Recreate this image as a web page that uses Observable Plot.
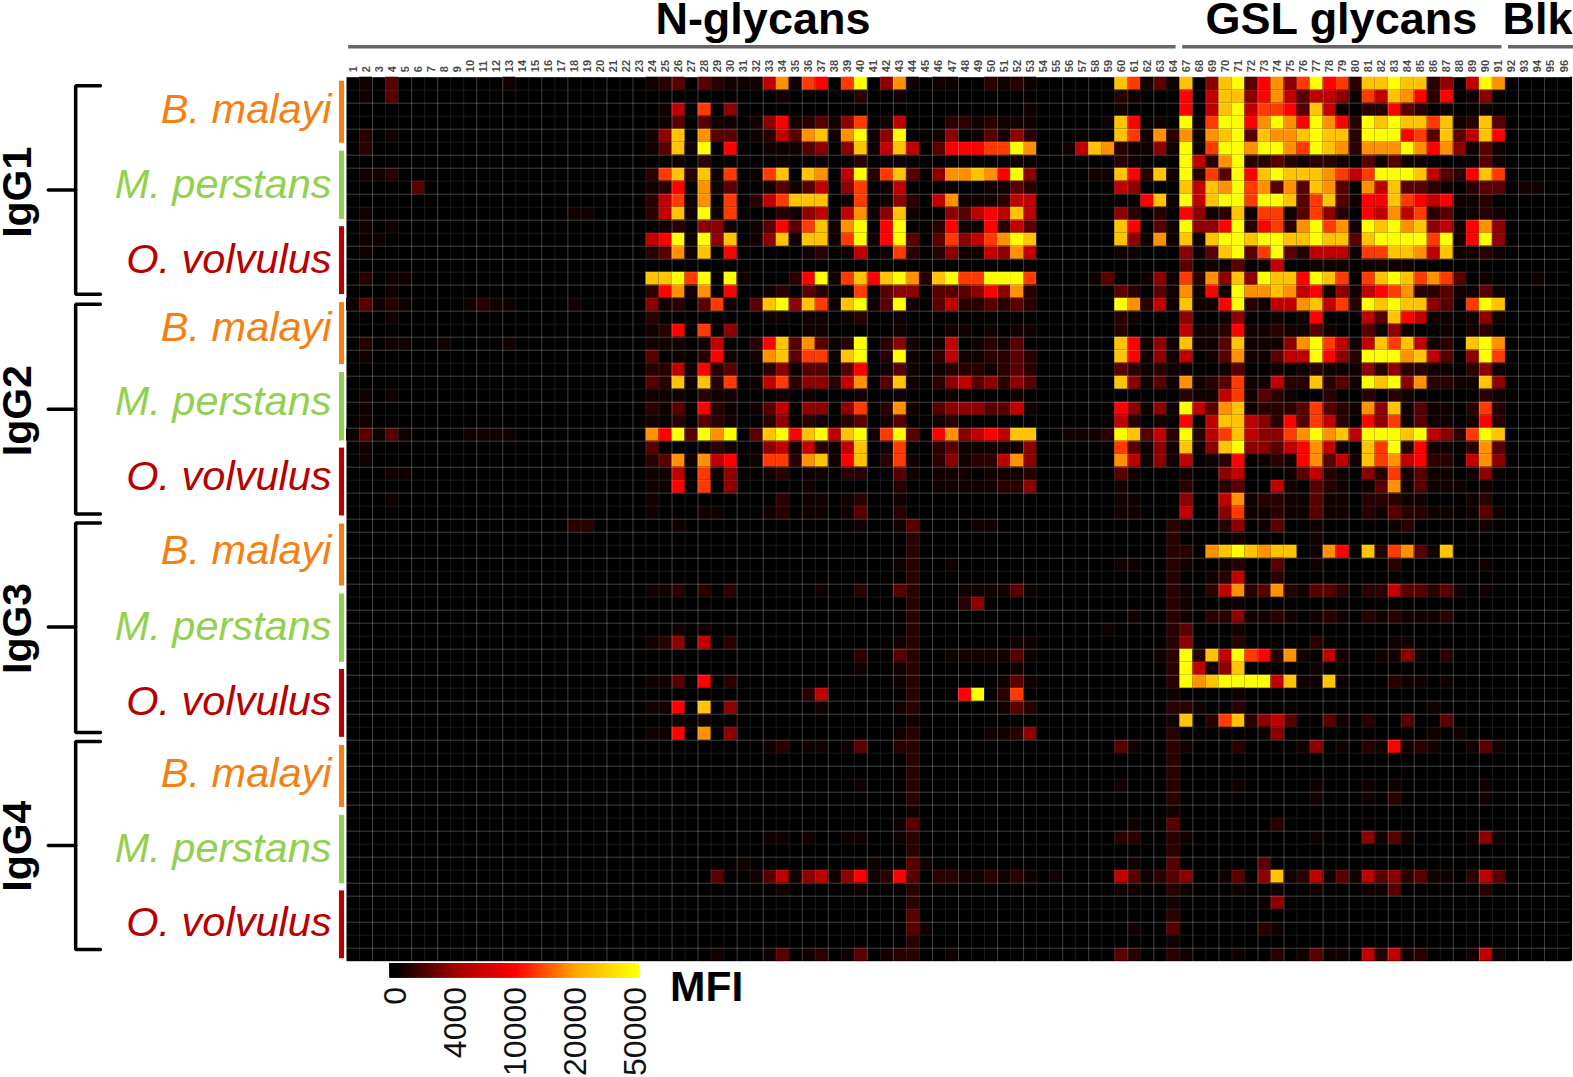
<!DOCTYPE html>
<html>
<head>
<meta charset="utf-8">
<style>html,body{margin:0;padding:0;background:#fff}svg{display:block}</style>
<script src="https://cdn.jsdelivr.net/npm/d3@7"></script>
<script src="https://cdn.jsdelivr.net/npm/@observablehq/plot@0.6"></script>
</head>
<body>
<div id="chart"></div>
<script>
// Glycan numbers along the top (65 and 66 are not on the array)
const glycanLabels = [...Array(64).keys()].map(i => i + 1).concat([...Array(30).keys()].map(i => i + 67));
// Colour legend
const legendTicks = [0, 4000, 10000, 20000, 50000];
const legendColors = ["#000000", "#a00000", "#ff0000", "#ffa500", "#ffff00"];
// MFI read for each colour level in the grids below (0-9, a)
const levelMfi = {0:0, 1:400, 2:1000, 3:2200, 4:3500, 5:6000, 6:10000, 7:13500, 8:18700, 9:30000, a:50000};

// Faint cells in glycans 1-23: [row, glycan, level]
const faintCells = [[0,2,1],[0,4,3],[0,13,1],[1,2,1],[1,4,3],[4,2,2],[4,4,1],[5,2,2],[7,2,1],[7,3,1],[7,4,2],[8,6,3],[10,2,1],[10,18,1],[10,19,1],[11,2,1],[11,4,1],[12,2,1],[12,3,1],[13,2,1],[15,2,2],[15,4,1],[15,5,1],[16,4,1],[17,1,1],[17,2,3],[17,3,1],[17,4,2],[17,5,1],[17,10,1],[17,11,2],[17,12,1],[17,13,1],[17,18,1],[18,4,1],[20,2,2],[20,4,1],[20,5,1],[20,8,1],[20,13,1],[21,2,1],[24,2,1],[24,4,1],[25,2,1],[26,2,1],[27,1,1],[27,2,3],[27,3,1],[27,4,3],[27,5,1],[27,10,1],[27,11,1],[27,12,1],[27,13,1],[28,2,1],[29,2,1],[30,4,1],[30,5,1],[32,4,1],[34,18,2],[34,19,2]];

// Levels for glycans 24-53, one string per row
const midLevels = [
"1230321115 817607a048 1011002121",
"0000000000 1000002001 0000000000",
"0150704000 0000000000 0000000001",
"0130311014 6123147015 0002212111",
"1490833012 538918a14a 0014013142",
"1391a06001 1134049159 50366677a8",
"0010200000 1001002001 0000000010",
"2792917017 909805a279 30488986a4",
"1260813001 3135047015 0000001132",
"2571807025 7999017014 2058111255",
"2591a17000 2145058149 1004356595",
"0120441013 637918a06a 0026116253",
"56a1a49014 919917a16a 30374578a9",
"2381906000 0012015017 2024115485",
"0000000000 0000000000 0000000000",
"99a7a0a100 026a17969a 829a77aaa7",
"2681806001 2032007034 4033346482",
"4120371039 a49719a13a 1035223232",
"2000000001 1011012001 0000000000",
"1260704000 0011000001 0001101011",
"1110150026 938312a024 1015012130",
"3010261018 937719a02a 1025112232",
"2251623002 4133036013 1012221232",
"3291927015 7244258039 1024534243",
"1110211000 1010001001 0001000010",
"2130621013 5044047028 1034443351",
"1020321002 4021023013 0012000000",
"86a3a8a039 a69a59a17a 3068456599",
"3000121004 5152159017 0023111114",
"2381856017 7289169027 1024122584",
"1150714001 2011022003 1011101112",
"1160704000 0010000002 0011111224",
"1000000000 2011012001 0000000000",
"1000110001 2011013002 0000000000",
"0010000000 0000001001 3000011000",
"0000000000 0000000000 2000000000",
"0000000000 0000000000 2000000000",
"0000000000 0000000001 2001000000",
"0000000000 0000000000 2000000000",
"1120202000 0001002003 2000111131",
"0000000000 0000000000 2000240000",
"0000000000 0000000000 2000000000",
"0010100000 0000000000 2000000000",
"1240502000 0000000001 2000000011",
"0000000000 0000002003 2001111131",
"0000000000 0000001001 2000000010",
"1130602000 0000000001 2000000131",
"0000000000 0025000000 20006a0270",
"1160904000 0001000001 2000000132",
"0010100000 0000000000 1000000000",
"1160804000 0000000001 2000001124",
"0000000001 2011013002 2000000000",
"0000000000 0000000000 2000000000",
"0000000000 0000000000 2000000000",
"0000000000 0000001000 2000000000",
"0000000000 0000000000 2000000000",
"0000000000 0000000000 1000000000",
"0000000000 0000000001 3000000000",
"0000000001 1010011001 2000000000",
"0000000000 0000000000 2000000000",
"0000000100 0000000100 3100000000",
"0000030013 5145146126 3022112121",
"0000000000 1000001000 2000000000",
"0000000000 0000000000 2000000000",
"0000000000 0000000000 3000000000",
"0000000000 0000000000 3100000000",
"0000000000 0000000000 2000000000",
"0000010001 3012013012 2001000000"
];

// Levels for glycans 54-59 | 60-64 | 67-71 | 72-76 | 77-81 | 82-86 | 87-91 | 92-96
const rightLevels = [
"000000 97131 9049a 36847 a6729 9a992 405a8 00000",
"000000 21000 60599 46853 55417 59862 60140 00000",
"000000 10000 6059a 57763 95102 26320 10010 00000",
"000001 96010 a17aa 68a86 a862a 9a997 91293 00000",
"000000 97182 8189a 39889 a992a aa673 93596 00000",
"001598 21141 a17aa 8aa87 a9828 88a86 84131 00000",
"000000 21000 a528a 22321 22103 13110 00031 00000",
"000011 96291 a273a 69a99 98757 aaa95 32697 00000",
"000000 54000 9598a 78383 98308 59332 10233 01100",
"000000 00691 a59aa 7aa93 79316 69765 61120 00000",
"000000 42020 64129 17713 74206 58572 30121 00000",
"000000 96031 a446a 26728 a781a 9a894 51684 00000",
"000000 94181 919aa 9aa99 a9939 aaaa7 a16a4 00000",
"000000 11000 4139a 37a32 55517 79985 91121 00000",
"000000 00000 30113 01500 11101 11100 00000 00000",
"000013 00141 72849 4a996 a9707 9a978 73010 00100",
"000000 32031 8161a 88985 61415 67822 31131 00000",
"000000 a8251 9116a 21558 9572a 9a994 307a9 00000",
"000000 21000 40014 00101 60005 39651 10141 00000",
"000000 20000 51126 11211 31003 14100 10120 00000",
"000000 96141 91139 11148 a7515 97951 209a8 00000",
"000000 96141 50138 11355 a642a aa895 304a7 00000",
"000000 32121 10013 00101 21114 24221 10241 00000",
"000000 94131 81237 11522 9231a 9a482 21194 00000",
"000000 00000 21157 13210 02002 02100 00021 00000",
"000000 64141 a5389 12223 73218 49131 10272 00000",
"000000 52010 60599 54263 75206 47131 10162 00000",
"001112 a9352 a2579 54478 a895a aa9a5 427a9 00000",
"000000 73141 9149a 44356 85109 7a261 10283 00000",
"000000 85141 50126 01216 83519 78562 20584 00000",
"000000 31000 10045 00013 52104 27131 10141 00000",
"000000 10000 20023 00510 32101 38131 11010 00000",
"000000 11000 40058 12211 31102 22110 00120 00000",
"000000 11000 50047 11211 31102 13221 10131 00000",
"000000 00002 10024 01300 10000 01200 00010 00000",
"000000 00002 00001 00000 10000 00000 00000 00000",
"000000 00002 2089a 98990 18609 27831 90000 00000",
"000000 11002 10012 00300 10000 02000 00010 00000",
"000000 00002 00125 00200 00000 00000 00000 00000",
"000000 00002 10258 23821 33202 25332 31010 00000",
"000000 00002 10001 00000 00000 00000 00000 00000",
"000000 01002 10224 11210 12102 12111 20000 00000",
"000001 00002 30001 00000 00000 00000 00000 00000",
"000000 00002 40002 00000 20000 01100 00000 00000",
"000000 00012 a295a 76281 05100 11410 20000 00000",
"000000 00002 a5149 00000 10000 00000 00000 00000",
"000000 00002 a89aa aa591 19100 02110 10000 00000",
"000000 00001 00001 00000 00000 00000 00000 00000",
"000000 00002 21002 00000 00000 00001 00000 00000",
"000000 00001 90279 24530 03102 00300 30000 00000",
"000000 00002 00000 01400 00000 00001 01000 00000",
"000000 31002 10002 00001 40102 16121 00131 00000",
"000000 00002 00000 00000 00000 00000 00000 00000",
"000000 00002 00000 00000 00000 00000 00000 00000",
"000000 10002 00001 00000 10001 01000 00010 00000",
"000000 00002 00000 00000 10001 02000 00010 00000",
"000000 00001 00000 00000 00000 00000 00000 00000",
"000000 01003 00000 00200 00000 00000 00000 00000",
"000000 22002 10000 00000 10004 13100 00141 00000",
"000000 00002 00000 00000 00000 00000 00000 00000",
"000000 01003 00000 03000 00000 00000 00000 00000",
"010000 53123 40013 04912 51315 34231 10253 00000",
"000000 11002 10001 00100 10001 13000 00020 00000",
"000000 00001 00000 01400 00000 00000 00000 00000",
"000000 00002 00000 00000 00000 00000 00000 00000",
"000000 01003 00000 02100 00000 00000 00000 00000",
"000000 00001 00000 00000 00000 00000 00000 00000",
"000000 32002 10001 00201 31105 25120 00151 00000"
];

// Annotation text
const isotypes = ["IgG1", "IgG2", "IgG3", "IgG4"];
const species = ["B. malayi", "M. perstans", "O. volvulus"];
const speciesColors = ["#f57f11", "#92d050", "#b80000"];
const glycanGroups = ["N-glycans", "GSL glycans", "Blk"];

// Placement of the annotations in the chart's own column / row units
const isotypeMid = [8.67, 25.55, 42.3, 59.1];
const isotypeText = [8.85, 25.65, 42.4, 59.15];
const bracketTop = [0.66, 17.47, 34.3, 51.1];
const bracketBottom = [16.7, 33.6, 50.4, 67.1];
const bandStart = [0.31, 5.69, 11.5];
const bandEnd = [5.08, 10.95, 16.72];
const labelRows = [2.5, 8.25, 14.05, 19.25, 25, 30.75, 36.45, 42.25, 48.05, 53.55, 59.35, 65.05];
const groupStart = [0.13, 64.18, 89.2];
const groupEnd = [63.67, 88.7, 94.2];
const groupMid = [31.98, 76.4, 91.47];
const legendPos = [3.77, 8.39, 13.01, 17.63, 22.25];

// ---- assemble the table ----
const cells = [];
midLevels.forEach((s, r) => {
  const mid = s.replace(/ /g, ""), right = rightLevels[r].replace(/ /g, "");
  [...mid].forEach((c, i) => cells.push({row: r, col: 23 + i, mfi: levelMfi[c]}));
  [...right].forEach((c, i) => cells.push({row: r, col: 53 + i, mfi: levelMfi[c]}));
});
faintCells.forEach(([r, g, l]) => cells.push({row: r, col: g - 1, mfi: levelMfi[l]}));

const nCols = glycanLabels.length, nRows = midLevels.length;
const vLines = d3.range(1, nCols), hLines = d3.range(1, nRows);
const brightV = v => v % 5 === 0 || v % 5 === 2;
const brightH = h => [0, 2, 4, 6].includes(h % 7);

// legend strip
const posToMfi = d3.scaleLinear().domain(legendPos).range(legendTicks).clamp(true);
const legendX0 = 3.31, legendX1 = 22.48, legendN = 249;
const legendStrip = d3.range(legendN).map(i => ({
  x1: legendX0 + (legendX1 - legendX0) * i / legendN,
  x2: legendX0 + (legendX1 - legendX0) * Math.min(i + 2, legendN) / legendN,
  mfi: posToMfi(legendX0 + (legendX1 - legendX0) * (i + .5) / legendN)
}));

// brackets and species bands
const brackets = isotypes.flatMap((g, k) => [
  {k: k + "a", x: -18.9, y: bracketTop[k]},
  {k: k + "a", x: -20.8, y: bracketTop[k]},
  {k: k + "a", x: -20.8, y: bracketBottom[k]},
  {k: k + "a", x: -18.9, y: bracketBottom[k]},
  {k: k + "b", x: -22.9, y: isotypeMid[k]},
  {k: k + "b", x: -20.8, y: isotypeMid[k]}
]);
const bands = isotypes.flatMap((g, k) => species.map((s, j) => ({
  y1: 17.03 * k + bandStart[j], y2: 17.03 * k + bandEnd[j], fill: speciesColors[j]
})));
const labels = labelRows.map((y, i) => ({y, text: species[i % 3], fill: speciesColors[i % 3]}));

const chart = Plot.plot({
  width: 1573, height: 1077,
  marginLeft: 346, marginRight: 3, marginTop: 76.7, marginBottom: 116.3,
  style: {fontFamily: "'Liberation Sans', Arial, sans-serif", background: "#fff", overflow: "hidden"},
  x: {axis: null, domain: [0, nCols], range: [346, 1570]},
  y: {axis: null, domain: [0, nRows], range: [76.7, 960.7]},
  color: {type: "linear", domain: legendTicks, range: legendColors},
  marks: [
    Plot.frame({fill: "#000", stroke: null}),
    Plot.rect([0], {x1: () => nCols, x2: () => nCols + 0.16, y1: () => 0, y2: () => nRows, fill: () => 0}),
    Plot.rect(cells.filter(d => d.mfi > 0), {
      x1: "col", x2: d => d.col + 1, y1: "row", y2: d => d.row + 1, fill: "mfi"
    }),
    Plot.ruleX(vLines.filter(v => !brightV(v)), {stroke: "#fff", strokeOpacity: 0.1, strokeWidth: 1}),
    Plot.ruleX(vLines.filter(brightV), {stroke: "#fff", strokeOpacity: 0.25, strokeWidth: 1}),
    Plot.ruleY(hLines.filter(h => !brightH(h)), {stroke: "#fff", strokeOpacity: 0.1, strokeWidth: 1}),
    Plot.ruleY(hLines.filter(brightH), {stroke: "#fff", strokeOpacity: 0.25, strokeWidth: 1}),
    Plot.axisX(glycanLabels.map((d, i) => i + .5), {
      anchor: "top", tickSize: 0, tickPadding: 5, tickRotate: -90,
      tickFormat: p => glycanLabels[p - .5], label: null,
      fontSize: 11, fontWeight: "bold", fill: "#4a4a4a"
    }),
    // group bars above
    Plot.link(glycanGroups.map((g, i) => i), {
      x1: i => groupStart[i], x2: i => groupEnd[i], y1: () => -2.35, y2: () => -2.35,
      stroke: "#666", strokeWidth: 3.5
    }),
    Plot.text(glycanGroups, {
      x: (d, i) => groupMid[i], y: () => -4.43, text: d => d,
      fontSize: 45, fontWeight: "bold", fill: "#000"
    }),
    // brackets
    Plot.line(brackets, {x: "x", y: "y", z: "k", stroke: "#000", strokeWidth: 3.5, curve: "linear", strokeLinejoin: "miter"}),
    Plot.text(isotypes, {
      x: () => -25.25, y: (d, i) => isotypeText[i], text: d => d, rotate: -90,
      fontSize: 41, fontWeight: "bold", fill: "#000"
    }),
    // species bands & labels
    Plot.rect(bands, {x1: () => -0.54, x2: () => -0.15, y1: "y1", y2: "y2", fill: d => d.fill}),
    Plot.text(labels, {
      x: () => -1.15, y: "y", text: "text", fill: "fill", textAnchor: "end",
      fontSize: 41.5, fontStyle: "italic"
    }),
    // legend
    Plot.rect(legendStrip, {x1: "x1", x2: "x2", y1: () => 68.18, y2: () => 69.31, fill: "mfi"}),
    Plot.text(legendTicks, {
      x: (d, i) => legendPos[i], y: () => 69.98, text: d => String(d), rotate: -90,
      textAnchor: "end", fontSize: 32, fill: "#111"
    }),
    Plot.text(["MFI"], {
      x: () => 24.85, y: () => 70, text: d => d, textAnchor: "start",
      fontSize: 42.5, fontWeight: "bold", fill: "#000"
    })
  ]
});
document.getElementById("chart").appendChild(chart);
</script>
</body>
</html>
